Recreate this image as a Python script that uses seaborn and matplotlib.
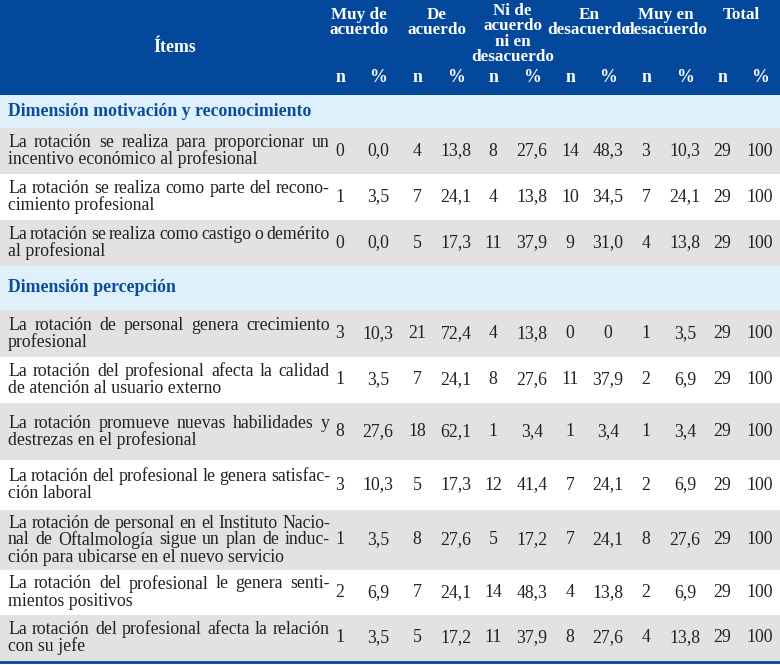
import matplotlib
matplotlib.use("Agg")
import matplotlib.pyplot as plt
import seaborn as sns
from matplotlib.patches import Rectangle

sns.set_style("white")
plt.rcParams['font.family'] = ['Liberation Serif', 'DejaVu Serif']

# ---- data ----
group_labels = ["Muy de\nacuerdo", "De\nacuerdo", "Ni de\nacuerdo\nni en\ndesacuerdo",
                "En\ndesacuerdo", "Muy en\ndesacuerdo", "Total"]
sections = ["Dimensión motivación y reconocimiento", "Dimensión percepción"]
items_s1 = [
    ["La rotación se realiza para proporcionar un", "incentivo económico al profesional"],
    ["La rotación se realiza como parte del recono-", "cimiento profesional"],
    ["La rotación se realiza como castigo o demérito", "al profesional"],
]
values_s1 = [
    ["0", "0,0", "4", "13,8", "8", "27,6", "14", "48,3", "3", "10,3", "29", "100"],
    ["1", "3,5", "7", "24,1", "4", "13,8", "10", "34,5", "7", "24,1", "29", "100"],
    ["0", "0,0", "5", "17,3", "11", "37,9", "9", "31,0", "4", "13,8", "29", "100"],
]
items_s2 = [
    ["La rotación de personal genera crecimiento", "profesional"],
    ["La rotación del profesional afecta la calidad", "de atención al usuario externo"],
    ["La rotación promueve nuevas habilidades y", "destrezas en el profesional"],
    ["La rotación del profesional le genera satisfac-", "ción laboral"],
    ["La rotación de personal en el Instituto Nacio-", "nal de Oftalmología sigue un plan de induc-",
     "ción para ubicarse en el nuevo servicio"],
    ["La rotación del profesional le genera senti-", "mientos positivos"],
    ["La rotación del profesional afecta la relación", "con su jefe"],
]
values_s2 = [
    ["3", "10,3", "21", "72,4", "4", "13,8", "0", "0", "1", "3,5", "29", "100"],
    ["1", "3,5", "7", "24,1", "8", "27,6", "11", "37,9", "2", "6,9", "29", "100"],
    ["8", "27,6", "18", "62,1", "1", "3,4", "1", "3,4", "1", "3,4", "29", "100"],
    ["3", "10,3", "5", "17,3", "12", "41,4", "7", "24,1", "2", "6,9", "29", "100"],
    ["1", "3,5", "8", "27,6", "5", "17,2", "7", "24,1", "8", "27,6", "29", "100"],
    ["2", "6,9", "7", "24,1", "14", "48,3", "4", "13,8", "2", "6,9", "29", "100"],
    ["1", "3,5", "5", "17,2", "11", "37,9", "8", "27,6", "4", "13,8", "29", "100"],
]

HEAD = "#03489a"
SEC_BG = "#def0fb"
SEC_TX = "#0b4c9c"
GRAY = "#e2e2e2"
TXT = "#222222"
col_x = [340, 378, 417, 456, 493, 532, 570, 608, 646, 685, 722, 760]
W, H = 780, 665
FS = 12.8

fig = plt.figure(figsize=(7.8, 6.65), dpi=100)
ax = fig.add_axes([0, 0, 1, 1])
ax.set_xlim(0, W)
ax.set_ylim(H, 0)
ax.axis("off")
renderer = fig.canvas.get_renderer()


def rect(y0, y1, color):
    ax.add_patch(Rectangle((0, y0), W, y1 - y0, color=color, lw=0))


def justified(lines, x0, x1, ytop, lh):
    for i, line in enumerate(lines):
        y = ytop + i * lh
        words = line.split(" ")
        if i == len(lines) - 1 or len(words) == 1:
            ax.text(x0, y, line, fontsize=FS, va="center", ha="left", color=TXT)
            continue
        arts = [ax.text(0, y, w, fontsize=FS, va="center", ha="left", color=TXT) for w in words]
        widths = [a.get_window_extent(renderer).width for a in arts]
        gap = (x1 - x0 - sum(widths)) / (len(words) - 1)
        x = x0
        for a, w in zip(arts, widths):
            a.set_x(x)
            x += w + gap


# header
rect(0, 95, HEAD)
ax.text(175, 47, "Ítems", color="white", fontsize=FS, weight="bold", ha="center", va="center")
for k, lab in enumerate(group_labels):
    xc = (col_x[2 * k] + col_x[2 * k + 1]) / 2
    ax.text(xc, 7 if k != 2 else 3, lab, color="white", fontsize=FS - 0.5, weight="bold",
            ha="center", va="top", linespacing=0.95)
for k, x in enumerate(col_x):
    ax.text(x, 78, "n" if k % 2 == 0 else "%", color="white", fontsize=FS,
            weight="bold", ha="center", va="center")

# body
layout = [(sections[0], 95, 128, items_s1, values_s1, [128, 174, 220, 266]),
          (sections[1], 266, 310, items_s2, values_s2, [310, 357, 403, 460, 510, 570, 615, 661])]
for sec, sy0, sy1, items, vals, edges in layout:
    rect(sy0, sy1, SEC_BG)
    ax.text(8, (sy0 + sy1) / 2, sec, color=SEC_TX, fontsize=FS, weight="bold", va="center")
    for r, (lines, row) in enumerate(zip(items, vals)):
        y0, y1 = edges[r], edges[r + 1]
        if r % 2 == 0:
            rect(y0, y1, GRAY)
        lh = 17
        ytop = (y0 + y1) / 2 - lh * (len(lines) - 1) / 2
        justified(lines, 8, 330, ytop, lh)
        for x, v in zip(col_x, row):
            ax.text(x, (y0 + y1) / 2, v, fontsize=FS, ha="center", va="center", color=TXT)

ax.plot([0, W], [662, 662], color=HEAD, lw=2)

fig.savefig("out.png", dpi=100)
